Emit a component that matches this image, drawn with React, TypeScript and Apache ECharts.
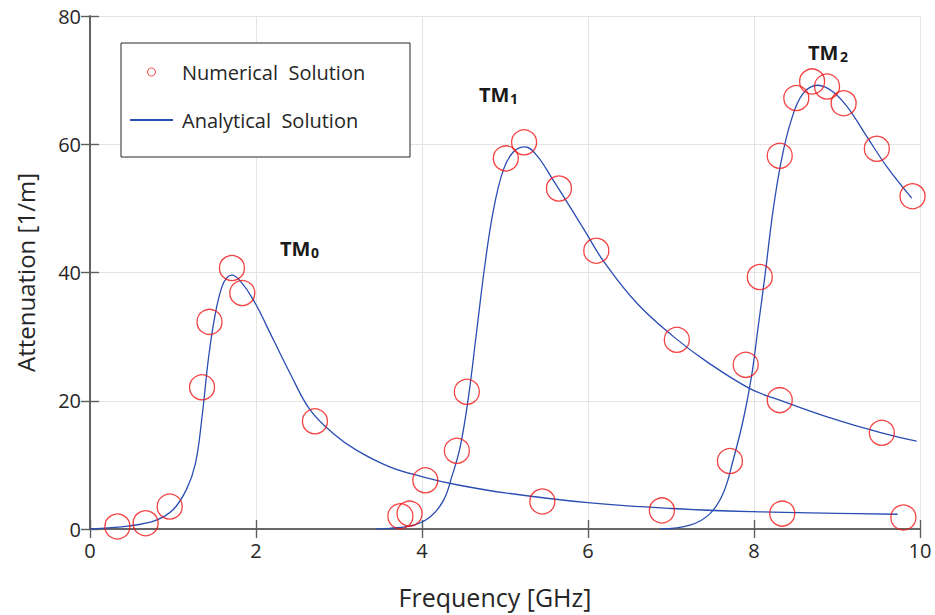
import React, { useEffect, useRef } from "react";
import * as echarts from "echarts";

const FONT = "'Open Sans', 'Noto Sans', sans-serif";

// Numerical solution points [frequency GHz, attenuation 1/m]
const numericalX = [0.33, 0.67, 0.96, 1.35, 1.44, 1.71, 1.835, 2.71, 3.74, 3.85, 4.04, 4.42, 4.54, 5.01, 5.23, 5.45, 5.65, 6.1, 6.89, 7.07, 7.71, 7.9, 8.07, 8.31, 8.31, 8.34, 8.51, 8.7, 8.88, 9.08, 9.48, 9.54, 9.8, 9.91];
const numericalY = [0.4, 0.9, 3.5, 22.1, 32.3, 40.7, 36.8, 16.8, 2.0, 2.4, 7.6, 12.2, 21.4, 57.8, 60.3, 4.3, 53.1, 43.4, 2.9, 29.5, 10.6, 25.6, 39.3, 58.2, 20.1, 2.4, 67.2, 69.8, 69.0, 66.4, 59.3, 15.0, 1.8, 51.9];

// Analytical solution curves
const tm0X = [0, 0.48, 0.8, 1.0, 1.16, 1.27, 1.35, 1.43, 1.51, 1.59, 1.65, 1.71, 1.81, 1.97, 2.21, 2.41, 2.65, 2.93, 3.21, 3.61, 4.02, 4.42, 5.02, 6.0, 7.0, 8.0, 9.0, 9.73];
const tm0Y = [0, 0.5, 1.4, 3.0, 6.1, 10.2, 17.5, 26.9, 33.6, 37.8, 39.2, 39.6, 38.7, 35.7, 29.5, 24.3, 18.6, 14.9, 12.3, 9.7, 8.1, 6.9, 5.6, 4.1, 3.2, 2.7, 2.45, 2.3];

const tm1X = [3.45, 3.61, 3.9, 4.1, 4.26, 4.36, 4.46, 4.56, 4.66, 4.76, 4.86, 4.98, 5.1, 5.24, 5.38, 5.58, 5.78, 5.98, 6.18, 6.59, 7.03, 7.43, 7.95, 8.31, 8.88, 9.56, 9.96];
const tm1Y = [0, 0.1, 0.6, 1.9, 4.5, 8.2, 12.8, 20.6, 31.0, 41.4, 49.7, 56.0, 58.8, 59.6, 58.3, 54.4, 50.3, 46.1, 41.9, 35.2, 30.0, 26.1, 21.9, 20.1, 17.5, 14.9, 13.7];

const tm2X = [6.87, 7.23, 7.47, 7.63, 7.75, 7.87, 7.97, 8.05, 8.13, 8.23, 8.33, 8.45, 8.59, 8.77, 8.95, 9.12, 9.36, 9.6, 9.9];
const tm2Y = [0, 0.6, 2.4, 5.6, 10.8, 17.0, 23.8, 31.5, 39.3, 49.7, 57.5, 63.8, 67.9, 69.2, 68.2, 65.9, 61.2, 56.5, 51.6];

const xTicks = { min: 0, max: 10, interval: 2 };
const yTicks = { min: 0, max: 80, interval: 20 };

const NUM_NAME = "Numerical  Solution";
const ANA_NAME = "Analytical  Solution";

const zip = (xs: number[], ys: number[]) => xs.map((x, i) => [x, ys[i]]);

export default function App() {
  const ref = useRef<HTMLDivElement>(null);
  useEffect(() => {
    if (!ref.current) return;
    const chart = echarts.init(ref.current, null, { renderer: "svg" });
    const axisColor = "#5e5e5e";
    const labelColor = "#262626";
    const lineColor = "#2a4db3";
    const frame = { show: true, lineStyle: { color: axisColor, width: 1.6 } };
    const tick = { show: true, inside: true, length: 9, lineStyle: { color: axisColor, width: 1.4 } };
    const curve = (xs: number[], ys: number[]) => ({
      type: "line",
      name: ANA_NAME,
      data: zip(xs, ys),
      showSymbol: false,
      symbol: "none",
      smooth: 0.4,
      lineStyle: { color: lineColor, width: 1.3 },
      itemStyle: { color: lineColor },
      z: 2,
    });
    chart.setOption({
      animation: false,
      backgroundColor: "#ffffff",
      textStyle: { fontFamily: FONT },
      grid: { left: 90, right: 15, top: 16, bottom: 86, containLabel: false },
      xAxis: [
        {
          type: "value",
          ...xTicks,
          position: "bottom",
          name: "Frequency [GHz]",
          nameLocation: "middle",
          nameGap: 55,
          nameTextStyle: { fontSize: 25, color: labelColor, fontFamily: FONT, padding: [0, 20, 0, 0] },
          axisLine: frame,
          axisTick: tick,
          axisLabel: { fontSize: 20, color: labelColor, margin: 11, fontFamily: FONT },
          splitLine: { show: true, lineStyle: { color: "#e4e4e4", width: 1 } },
        },
        {
          type: "value",
          ...xTicks,
          position: "top",
          axisLine: frame,
          axisTick: tick,
          axisLabel: { show: false },
          splitLine: { show: false },
        },
      ],
      yAxis: [
        {
          type: "value",
          ...yTicks,
          position: "left",
          name: "Attenuation [1/m]",
          nameLocation: "middle",
          nameGap: 53,
          nameTextStyle: { fontSize: 24, color: labelColor, fontFamily: FONT },
          axisLine: frame,
          axisTick: tick,
          axisLabel: { fontSize: 20, color: labelColor, margin: 9, fontFamily: FONT },
          splitLine: { show: true, lineStyle: { color: "#e4e4e4", width: 1 } },
        },
        {
          type: "value",
          ...yTicks,
          position: "right",
          axisLine: frame,
          axisTick: tick,
          axisLabel: { show: false },
          splitLine: { show: false },
        },
      ],
      legend: {
        left: 121,
        top: 43,
        orient: "vertical",
        backgroundColor: "#ffffff",
        borderColor: "#262626",
        borderWidth: 1,
        borderRadius: 0,
        padding: [17, 22, 25, 8],
        itemWidth: 43,
        itemHeight: 8,
        itemGap: 24,
        textStyle: { fontSize: 20, color: labelColor, fontFamily: FONT, lineHeight: 24, width: 206, padding: [0, 0, 0, 4] },
        data: [
          { name: NUM_NAME, icon: "circle", itemStyle: { borderWidth: 1 } },
          { name: ANA_NAME, itemStyle: { opacity: 0 } },
        ],
      },
      series: [
        curve(tm0X, tm0Y),
        curve(tm1X, tm1Y),
        curve(tm2X, tm2Y),
        {
          type: "scatter",
          name: NUM_NAME,
          data: zip(numericalX, numericalY),
          symbol: "circle",
          symbolSize: 25,
          itemStyle: { color: "rgba(255,255,255,0)", borderColor: "#f01414", borderWidth: 1.3 },
          z: 3,
        },
      ],
      graphic: [
        { type: "text", left: 280, top: 238, style: { text: "TM", font: `bold 20px ${FONT}`, fill: "#1a1a1a" } },
        { type: "text", left: 311, top: 245, style: { text: "0", font: `bold 14px ${FONT}`, fill: "#1a1a1a" } },
        { type: "text", left: 479, top: 84, style: { text: "TM", font: `bold 20px ${FONT}`, fill: "#1a1a1a" } },
        { type: "text", left: 510, top: 91, style: { text: "1", font: `bold 14px ${FONT}`, fill: "#1a1a1a" } },
        { type: "text", left: 808, top: 42, style: { text: "TM", font: `bold 20px ${FONT}`, fill: "#1a1a1a" } },
        { type: "text", left: 840, top: 49, style: { text: "2", font: `bold 14px ${FONT}`, fill: "#1a1a1a" } },
      ],
    });
    return () => chart.dispose();
  }, []);
  return <div ref={ref} style={{ width: 935, height: 615, position: "absolute", left: 0, top: 0 }} />;
}
